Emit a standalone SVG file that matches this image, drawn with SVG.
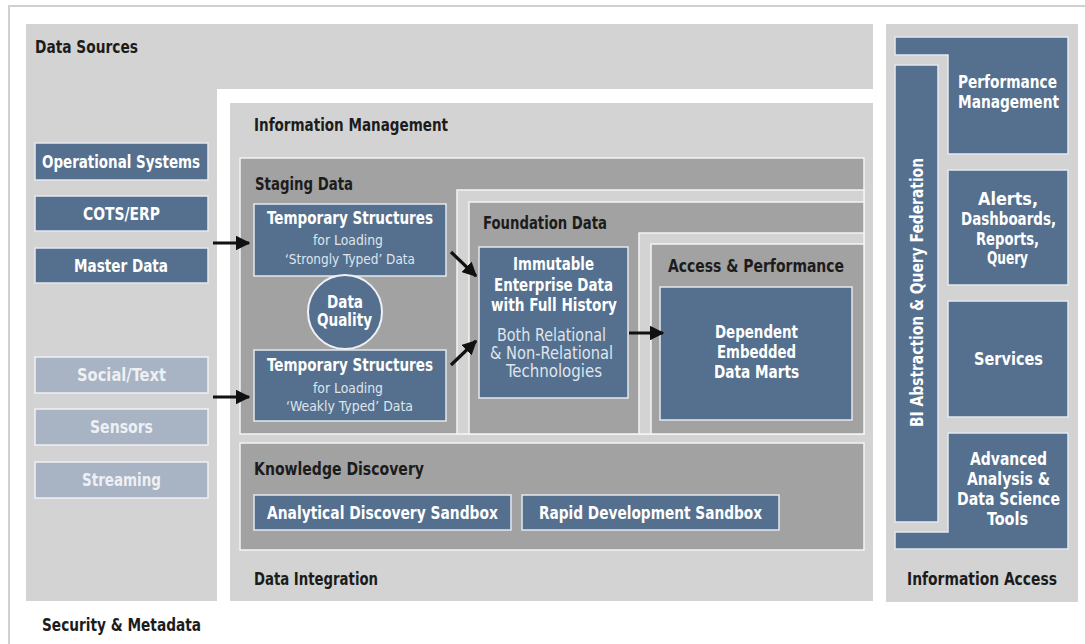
<svg xmlns="http://www.w3.org/2000/svg" width="1085" height="644" viewBox="0 0 1085 644">
<style>
.t{font-family:"Liberation Sans Narrow","DejaVu Sans Condensed","Liberation Sans",sans-serif;font-weight:bold;font-size:17px}
.r{font-weight:normal}
.s{font-size:14px}
.k{fill:#1c1c1c}
.w{fill:#ffffff}
.f{fill:#dfe5ec}
.lt{fill:#eef0f4}
.b{fill:#55708e;stroke:#e4e9ef;stroke-width:1.5}
.lb{fill:#a8b3c3;stroke:#eef1f5;stroke-width:1.5}
.dg{fill:#a2a2a2;stroke:#f4f4f4;stroke-width:1.5}
.lg{fill:#d3d3d3}
.lgs{fill:#d3d3d3;stroke:#f4f4f4;stroke-width:1.5}
.a{stroke:#111;stroke-width:3.2;fill:none;marker-end:url(#ah)}
</style>
<defs>
<marker id="ah" viewBox="0 0 10 10" refX="9" refY="5" markerWidth="4.6" markerHeight="4.6" orient="auto" markerUnits="strokeWidth">
<path d="M0,0 L10,5 L0,10 z" fill="#111"/>
</marker>
</defs>
<rect x="0" y="0" width="1085" height="644" fill="#ffffff"/>
<rect x="9" y="6" width="1090" height="660" fill="none" stroke="#d0d0d0" stroke-width="2"/>

<g id="data-sources">
<rect class="lg" x="26" y="24" width="847" height="577"/>
<text class="t k" x="35" y="53" textLength="103" lengthAdjust="spacingAndGlyphs">Data Sources</text>
</g>

<g id="information-management">
<rect x="217" y="89" width="656" height="512" fill="#ffffff"/>
<rect class="lg" x="230" y="103" width="643" height="498"/>
<text class="t k" x="254" y="131" textLength="194" lengthAdjust="spacingAndGlyphs">Information Management</text>
<text class="t k" x="254" y="585" textLength="124" lengthAdjust="spacingAndGlyphs">Data Integration</text>
</g>

<g id="staging-data">
<rect class="dg" x="240" y="158" width="624" height="276"/>
<text class="t k" x="255" y="190" textLength="98" lengthAdjust="spacingAndGlyphs">Staging Data</text>
</g>

<g id="foundation-data">
<rect class="lgs" x="457" y="190" width="407" height="244"/>
<rect class="dg" x="469" y="202" width="395" height="232"/>
<text class="t k" x="483" y="229" textLength="124" lengthAdjust="spacingAndGlyphs">Foundation Data</text>
</g>

<g id="access-performance">
<rect class="lgs" x="639" y="233" width="225" height="201"/>
<rect class="dg" x="651" y="244" width="213" height="190"/>
<text class="t k" x="668" y="272" textLength="176" lengthAdjust="spacingAndGlyphs">Access &amp; Performance</text>
</g>

<g id="knowledge-discovery">
<rect class="dg" x="240" y="443" width="624" height="107"/>
<text class="t k" x="254" y="475" textLength="170" lengthAdjust="spacingAndGlyphs">Knowledge Discovery</text>
</g>

<g id="information-access">
<rect class="lg" x="886" y="24" width="192" height="578"/>
<text class="t k" x="907" y="585" textLength="150" lengthAdjust="spacingAndGlyphs">Information Access</text>
</g>

<g id="operational-systems">
<rect class="b" x="35" y="143" width="173" height="37"/>
<text class="t w" x="42" y="168" textLength="158" lengthAdjust="spacingAndGlyphs">Operational Systems</text>
</g>
<g id="cots-erp">
<rect class="b" x="35" y="196" width="173" height="35"/>
<text class="t w" x="83" y="220" textLength="77" lengthAdjust="spacingAndGlyphs">COTS/ERP</text>
</g>
<g id="master-data">
<rect class="b" x="35" y="248" width="173" height="35"/>
<text class="t w" x="74" y="272" textLength="94" lengthAdjust="spacingAndGlyphs">Master Data</text>
</g>
<g id="social-text">
<rect class="lb" x="35" y="357" width="173" height="36"/>
<text class="t lt" x="77" y="381" textLength="89" lengthAdjust="spacingAndGlyphs">Social/Text</text>
</g>
<g id="sensors">
<rect class="lb" x="35" y="409" width="173" height="36"/>
<text class="t lt" x="90" y="433" textLength="63" lengthAdjust="spacingAndGlyphs">Sensors</text>
</g>
<g id="streaming">
<rect class="lb" x="35" y="462" width="173" height="36"/>
<text class="t lt" x="82" y="486" textLength="79" lengthAdjust="spacingAndGlyphs">Streaming</text>
</g>

<g id="temp-strong">
<rect class="b" x="254" y="204" width="192" height="72"/>
<text class="t w" x="267" y="224" textLength="166" lengthAdjust="spacingAndGlyphs">Temporary Structures</text>
<text class="t r s f" x="313" y="245" textLength="70" lengthAdjust="spacingAndGlyphs">for Loading</text>
<text class="t r s f" x="285" y="264" textLength="130" lengthAdjust="spacingAndGlyphs">‘Strongly Typed’ Data</text>
</g>

<g id="data-quality">
<circle cx="345" cy="312" r="37" fill="#55708e" stroke="#eef1f5" stroke-width="2"/>
<text class="t w" x="327" y="308" textLength="36" lengthAdjust="spacingAndGlyphs">Data</text>
<text class="t w" x="317" y="326" textLength="55" lengthAdjust="spacingAndGlyphs">Quality</text>
</g>

<g id="temp-weak">
<rect class="b" x="254" y="350" width="192" height="71"/>
<text class="t w" x="267" y="371" textLength="166" lengthAdjust="spacingAndGlyphs">Temporary Structures</text>
<text class="t r s f" x="313" y="393" textLength="70" lengthAdjust="spacingAndGlyphs">for Loading</text>
<text class="t r s f" x="286" y="411" textLength="127" lengthAdjust="spacingAndGlyphs">‘Weakly Typed’ Data</text>
</g>

<g id="immutable">
<rect class="b" x="479" y="247" width="149" height="151"/>
<text class="t w" x="513" y="270" textLength="81" lengthAdjust="spacingAndGlyphs">Immutable</text>
<text class="t w" x="494" y="291" textLength="119" lengthAdjust="spacingAndGlyphs">Enterprise Data</text>
<text class="t w" x="491" y="311" textLength="126" lengthAdjust="spacingAndGlyphs">with Full History</text>
<text class="t r f" x="497" y="341" textLength="109" lengthAdjust="spacingAndGlyphs">Both Relational</text>
<text class="t r f" x="490" y="359" textLength="123" lengthAdjust="spacingAndGlyphs">&amp; Non-Relational</text>
<text class="t r f" x="506" y="377" textLength="96" lengthAdjust="spacingAndGlyphs">Technologies</text>
</g>

<g id="dependent-marts">
<rect class="b" x="660" y="287" width="192" height="133"/>
<text class="t w" x="715" y="338" textLength="83" lengthAdjust="spacingAndGlyphs">Dependent</text>
<text class="t w" x="717" y="358" textLength="79" lengthAdjust="spacingAndGlyphs">Embedded</text>
<text class="t w" x="714" y="378" textLength="85" lengthAdjust="spacingAndGlyphs">Data Marts</text>
</g>

<g id="analytical-sandbox">
<rect class="b" x="254" y="495" width="257" height="35"/>
<text class="t w" x="267" y="519" textLength="231" lengthAdjust="spacingAndGlyphs">Analytical Discovery Sandbox</text>
</g>
<g id="rapid-sandbox">
<rect class="b" x="522" y="495" width="257" height="35"/>
<text class="t w" x="539" y="519" textLength="223" lengthAdjust="spacingAndGlyphs">Rapid Development Sandbox</text>
</g>

<g id="performance-management">
<path class="b" d="M895,37 H1068 V154 H948 V55 H895 Z"/>
<text class="t w" x="958" y="88" textLength="99" lengthAdjust="spacingAndGlyphs">Performance</text>
<text class="t w" x="958" y="108" textLength="101" lengthAdjust="spacingAndGlyphs">Management</text>
</g>
<g id="bi-abstraction">
<rect class="b" x="895" y="65" width="43" height="457"/>
<text class="t w" transform="translate(923,427) rotate(-90)" x="0" y="0" textLength="269" lengthAdjust="spacingAndGlyphs">BI Abstraction &amp; Query Federation</text>
</g>
<g id="alerts">
<rect class="b" x="948" y="170" width="120" height="115"/>
<text class="t w" x="978" y="205" textLength="60" lengthAdjust="spacingAndGlyphs">Alerts,</text>
<text class="t w" x="961" y="225" textLength="95" lengthAdjust="spacingAndGlyphs">Dashboards,</text>
<text class="t w" x="976" y="245" textLength="63" lengthAdjust="spacingAndGlyphs">Reports,</text>
<text class="t w" x="987" y="264" textLength="41" lengthAdjust="spacingAndGlyphs">Query</text>
</g>
<g id="services">
<rect class="b" x="948" y="301" width="120" height="116"/>
<text class="t w" x="974" y="365" textLength="69" lengthAdjust="spacingAndGlyphs">Services</text>
</g>
<g id="advanced-analysis">
<path class="b" d="M948,433 H1068 V549 H895 V532 H948 Z"/>
<text class="t w" x="970" y="465" textLength="77" lengthAdjust="spacingAndGlyphs">Advanced</text>
<text class="t w" x="967" y="485" textLength="83" lengthAdjust="spacingAndGlyphs">Analysis &amp;</text>
<text class="t w" x="957" y="505" textLength="103" lengthAdjust="spacingAndGlyphs">Data Science</text>
<text class="t w" x="987" y="525" textLength="41" lengthAdjust="spacingAndGlyphs">Tools</text>
</g>

<g id="security-metadata">
<text class="t k" x="42" y="631" textLength="159" lengthAdjust="spacingAndGlyphs">Security &amp; Metadata</text>
</g>

<g id="connectors">
<line class="a" x1="213" y1="243" x2="249" y2="243"/>
<line class="a" x1="213" y1="397" x2="249" y2="397"/>
<line class="a" x1="451" y1="252" x2="476" y2="276"/>
<line class="a" x1="451" y1="365" x2="476" y2="341"/>
<line class="a" x1="629" y1="333" x2="663" y2="333"/>
</g>
</svg>
